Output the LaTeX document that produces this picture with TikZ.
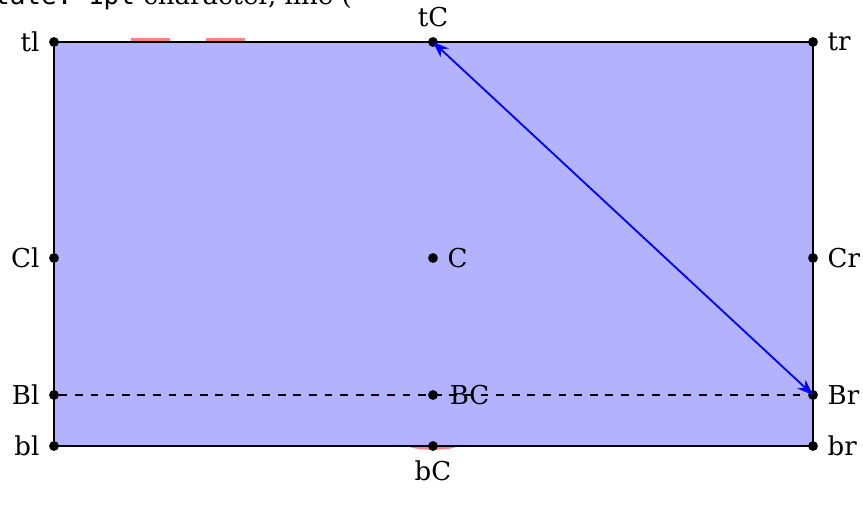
\documentclass[tikz,border=0pt]{standalone}
\usepackage{fontspec}
\setmainfont{DejaVu Serif}
\setmonofont{DejaVu Sans Mono}
\usetikzlibrary{arrows.meta}
\tikzset{
  point dot/.style={
    circle,
    fill=black,
    inner sep=0pt,
    minimum size=3.8pt
  },
  box line/.style={
    draw=black,
    line width=0.75pt
  },
  mark red/.style={
    red!50
  }
}

\begin{document}
\begin{tikzpicture}[x=0.01352cm, y=-0.01352cm, >=Stealth]

  \useasboundingbox (0,0) rectangle (863,509);

  %% ---- clipped caption line at the top ----
  \node[anchor=base west, inner sep=0pt] (caption) at (-22,5)
      {\texttt{state: 1pt} character, line (};

  %% ---- red marks behind the box ----
  \draw[mark red, line width=3pt, dash pattern=on 15pt off 13.85pt]
      (131,42) -- (245,42);
  \fill[mark red] (433,446) ellipse[x radius=9.2pt, y radius=1.4pt];

  %% ---- the box ----
  \coordinate (tlc) at (54,42);
  \coordinate (brc) at (813,446);
  \draw[box line, fill=blue!30] (tlc) rectangle (brc);

  %% ---- named points ----
  \node[point dot, label=left:tl]   (tl) at (54,42)   {};
  \node[point dot, label=above:tC]  (tC) at (433,42)  {};
  \node[point dot, label=right:tr]  (tr) at (813,42)  {};
  \node[point dot, label=left:Cl]   (Cl) at (54,258)  {};
  \node[point dot, label=right:C]   (C)  at (433,258) {};
  \node[point dot, label=right:Cr]  (Cr) at (813,258) {};
  \node[point dot, label=left:Bl]   (Bl) at (54,395)  {};
  \node[point dot]                  (BC) at (433,395) {};
  \node[point dot, label=right:Br]  (Br) at (813,395) {};
  \node[point dot, label=left:bl]   (bl) at (54,446)  {};
  \node[point dot, label=below:bC]  (bC) at (433,446) {};
  \node[point dot, label=right:br]  (br) at (813,446) {};

  % dashed line through B, drawn over the label of BC
  \node[anchor=west, inner sep=0pt] (BClabel) at ([xshift=4.2pt]BC.east) {BC};
  \draw[dashed, line width=0.7pt] (Bl) -- (Br);

  % blue double arrow
  \draw[<->, blue, line width=0.7pt] (tC.center) -- (Br.center);

\end{tikzpicture}
\end{document}
